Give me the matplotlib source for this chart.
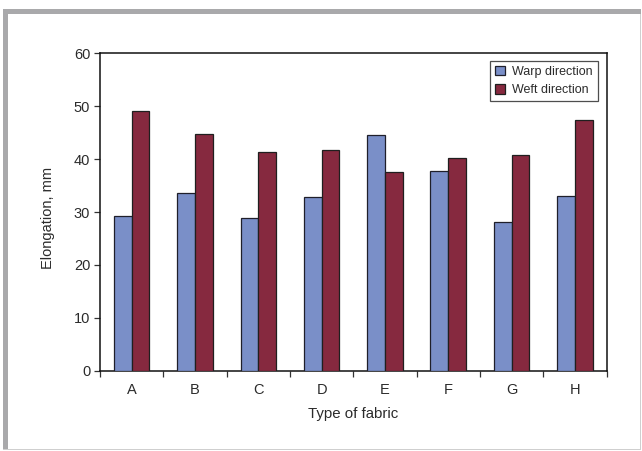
import matplotlib
matplotlib.use("Agg")
import matplotlib.pyplot as plt
from matplotlib.patches import Rectangle
import numpy as np

plt.rcParams['font.family'] = ['Liberation Sans', 'DejaVu Sans']

fabrics = ["A", "B", "C", "D", "E", "F", "G", "H"]
warp = [29.3, 33.5, 28.8, 32.9, 44.5, 37.7, 28.2, 33.0]
weft = [49.1, 44.8, 41.3, 41.7, 37.6, 40.3, 40.7, 47.4]
y_ticks = [0, 10, 20, 30, 40, 50, 60]

W, H = 642, 451
fig = plt.figure(figsize=(W / 100, H / 100), dpi=100)
fig.patch.set_facecolor("white")

# panel frame: heavy grey on top/left, light grey on bottom/right
fig.add_artist(Rectangle((3 / W, 1 - 14 / H), 638 / W, 5 / H, transform=fig.transFigure,
                         facecolor="#a9a9ab", edgecolor="none"))
fig.add_artist(Rectangle((3 / W, 2 / H), 5 / W, 1 - 16 / H, transform=fig.transFigure,
                         facecolor="#a9a9ab", edgecolor="none"))
fig.add_artist(Rectangle((3 / W, 1 / H), 638 / W, 1.2 / H, transform=fig.transFigure,
                         facecolor="#cfcfcf", edgecolor="none"))
fig.add_artist(Rectangle((639.5 / W, 1 / H), 1.2 / W, 1 - 15 / H, transform=fig.transFigure,
                         facecolor="#cfcfcf", edgecolor="none"))

left, right, top, bottom = 100, 606.5, 53.3, 370.7
ax = fig.add_axes([left / W, 1 - bottom / H, (right - left) / W, (bottom - top) / H])

x = np.arange(len(fabrics)) + 0.5
bw = 0.28
ax.bar(x - bw / 2, warp, bw, color="#7a8fc8", edgecolor="#1f1f2a", linewidth=0.9,
       label="Warp direction", zorder=3)
ax.bar(x + bw / 2, weft, bw, color="#86293f", edgecolor="#1f1f1f", linewidth=0.9,
       label="Weft direction", zorder=3)

ax.set_xlim(0, len(fabrics))
ax.set_ylim(0, 60)
ax.set_yticks(y_ticks)
ax.set_xticks(np.arange(len(fabrics) + 1))
ax.set_xticklabels([])
ax.set_xticks(x, minor=True)
ax.set_xticklabels(fabrics, minor=True)
ax.tick_params(axis="x", which="major", direction="out", length=4, width=0.9, color="#333333")
ax.tick_params(axis="x", which="minor", length=0, pad=9, labelsize=10.5, labelcolor="#2b2b2b")
ax.tick_params(axis="y", direction="out", length=4, width=0.9, color="#333333",
               labelsize=10.5, labelcolor="#2b2b2b", pad=3)
for s in ax.spines.values():
    s.set_linewidth(1.1)
    s.set_color("#111111")

ax.set_xlabel("Type of fabric", fontsize=10.8, color="#2b2b2b", labelpad=7)
ax.set_ylabel("Elongation, mm", fontsize=10.5, color="#2b2b2b")
ax.yaxis.set_label_coords(-0.088, 0.48)

leg = ax.legend(loc="upper right", bbox_to_anchor=(0.983, 0.976), fontsize=9,
                frameon=True, fancybox=False, edgecolor="#222222", handlelength=0.8,
                handleheight=0.8, handletextpad=0.6, borderpad=0.4, labelspacing=0.5,
                borderaxespad=0)
leg.get_frame().set_linewidth(0.9)
for t in leg.get_texts():
    t.set_color("#2b2b2b")

fig.savefig("out.png", dpi=100)
